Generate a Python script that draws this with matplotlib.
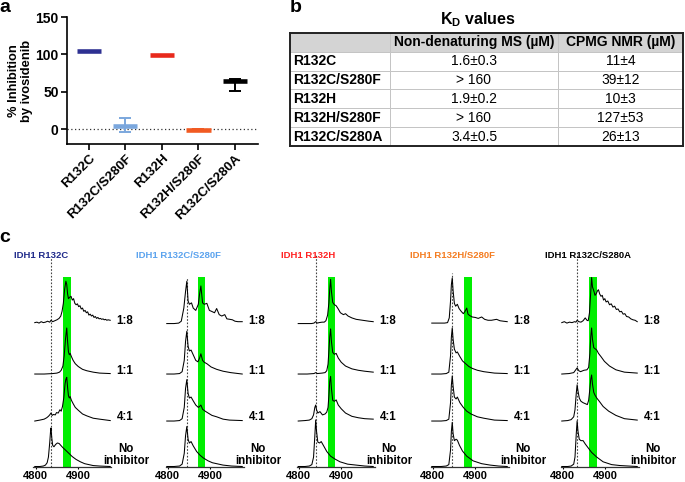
import matplotlib
matplotlib.use('Agg')
import matplotlib.pyplot as plt
import numpy as np

plt.rcParams['font.family'] = ['Liberation Sans', 'DejaVu Sans']
plt.rcParams['mathtext.fontset'] = 'custom'
plt.rcParams['mathtext.rm'] = 'Liberation Sans'
plt.rcParams['mathtext.bf'] = 'Liberation Sans:bold'

# ---------------- Panel a data ----------------
a_categories = ['R132C', 'R132C/S280F', 'R132H', 'R132H/S280F', 'R132C/S280A']
a_mean = [104, 4.5, 99, -1, 65]
a_err_low = [104, -4, 99, -2, 51]
a_err_high = [104, 15, 99, 0.5, 67]
a_colors = ['#2e3192', '#7ba7dd', '#e8291c', '#f15a22', '#000000']
a_yticks = [0, 50, 100, 150]

# ---------------- Panel b data ----------------
tbl_header = ['', 'Non-denaturing MS (µM)', 'CPMG NMR (µM)']
tbl_rows = ['R132C', 'R132C/S280F', 'R132H', 'R132H/S280F', 'R132C/S280A']
kd_ms = ['1.6±0.3', '> 160', '1.9±0.2', '> 160', '3.4±0.5']
kd_nmr = ['11±4', '39±12', '10±3', '127±53', '26±13']

# ---------------- Panel c data ----------------
c_titles = ['IDH1 R132C', 'IDH1 R132C/S280F', 'IDH1 R132H', 'IDH1 R132H/S280F', 'IDH1 R132C/S280A']
c_title_colors = ['#1f2a8a', '#5ba3ee', '#ff2020', '#f47c20', '#000000']
c_ratios = ['1:8', '1:1', '4:1', 'No inhibitor']
c_apo_mz = [4836, 4845, 4840, 4846, 4834]          # dotted line (no inhibitor peak)
c_band_lo = [4865, 4871, 4869, 4873, 4863]         # green band (complex)
c_band_hi = [4883, 4888, 4885, 4892, 4880]
c_xticks = [4800, 4900]

# R132C
r132c_18_mz = [4798,4803,4808,4813,4818,4823,4828,4833,4836,4840,4845,4850,4855,4859,4862,4865,4868,4871,4873,4875,4877,4880,4883,4886,4889,4892,4895,4898,4901,4904,4907,4910,4913,4916,4919,4922,4925,4928,4931,4934,4937,4940,4943,4946,4949,4952,4955,4958,4961,4964,4967,4970,4975]
r132c_18_int = [4,5,3,6,4,5,7,5,9,6,8,10,13,18,28,45,75,92,85,65,55,58,60,52,55,45,42,44,38,40,33,35,28,30,25,27,20,22,18,20,15,17,13,15,12,13,11,12,10,11,9,10,9]
r132c_11_mz = [4798,4820,4840,4850,4856,4860,4864,4867,4870,4873,4875,4877,4879,4881,4884,4888,4893,4900,4910,4920,4935,4950,4975]
r132c_11_int = [1,1,2,3,5,9,18,40,75,99,70,48,42,45,38,30,23,17,11,8,5,3,2]
r132c_41_mz = [4798,4810,4820,4826,4830,4833,4836,4839,4842,4846,4849,4853,4857,4860,4863,4866,4869,4871,4873,4875,4877,4879,4881,4884,4888,4893,4900,4910,4920,4935,4950,4975]
r132c_41_int = [1,3,5,8,11,14,18,13,15,14,19,18,25,22,32,50,80,90,94,72,55,50,53,45,38,30,24,16,12,7,5,2]
r132c_no_mz = [4798,4810,4818,4823,4827,4830,4833,4835,4836,4838,4840,4843,4847,4851,4855,4859,4864,4870,4878,4886,4895,4905,4915,4925,4935,4950,4975]
r132c_no_int = [0,0,1,3,8,20,50,75,82,60,45,42,47,50,49,45,40,35,28,21,15,10,6,4,2,1,0]

# R132C/S280F
s280f_18_mz = [4798,4815,4826,4832,4838,4842,4845,4848,4851,4856,4860,4866,4872,4875,4878,4882,4886,4892,4898,4903,4910,4915,4921,4927,4934,4939,4946,4952,4958,4965,4975]
s280f_18_int = [2,2,3,7,35,70,92,50,43,46,35,30,43,65,82,46,43,45,30,28,25,34,21,18,21,12,11,10,7,6,6]
s280f_11_mz = [4798,4815,4828,4834,4839,4842,4845,4848,4851,4855,4860,4866,4871,4875,4878,4882,4886,4892,4902,4915,4930,4948,4975]
s280f_11_int = [1,1,2,6,30,70,92,60,50,52,42,30,27,35,44,30,26,23,16,11,7,4,1]
s280f_41_mz = [4798,4815,4828,4834,4839,4842,4845,4848,4851,4855,4860,4866,4872,4875,4878,4882,4888,4895,4904,4915,4930,4945,4975]
s280f_41_int = [1,1,2,6,30,70,89,60,50,52,44,35,30,32,35,26,22,18,13,10,5,3,2]
s280f_no_mz = [4798,4815,4828,4834,4839,4842,4845,4848,4851,4855,4860,4868,4876,4884,4895,4905,4915,4930,4950,4975]
s280f_no_int = [0,0,1,5,28,65,85,58,50,53,44,32,24,18,12,8,6,3,1,0]

# R132H
r132h_18_mz = [4799,4815,4830,4836,4840,4844,4848,4855,4860,4864,4868,4871,4873,4875,4877,4880,4884,4888,4893,4898,4905,4910,4916,4925,4935,4950,4965,4975]
r132h_18_int = [2,2,2,3,6,3,4,5,5,8,20,46,75,96,70,47,42,40,33,25,21,23,18,14,11,9,7,6]
r132h_11_mz = [4799,4820,4836,4840,4844,4855,4862,4866,4869,4871,4873,4875,4877,4880,4884,4888,4893,4900,4910,4925,4940,4955,4975]
r132h_11_int = [1,1,2,4,2,3,4,8,22,50,80,97,70,47,43,45,35,26,18,12,9,7,5]
r132h_41_mz = [4799,4815,4825,4831,4835,4838,4840,4842,4845,4850,4856,4862,4866,4869,4871,4873,4875,4877,4880,4884,4888,4893,4900,4910,4925,4940,4955,4975]
r132h_41_int = [1,2,3,6,14,30,35,25,18,21,14,16,20,30,55,85,96,70,45,43,46,35,27,18,11,8,6,5]
r132h_no_mz = [4799,4815,4825,4831,4835,4838,4840,4842,4845,4849,4853,4858,4866,4875,4885,4897,4915,4935,4955,4975]
r132h_no_int = [0,0,1,4,20,65,99,75,52,50,53,45,32,22,16,10,5,3,1,0]

# R132H/S280F
hs280f_18_mz = [4798,4815,4828,4835,4839,4842,4844,4846,4848,4851,4854,4858,4862,4867,4872,4876,4880,4883,4887,4893,4900,4907,4915,4922,4930,4938,4944,4950,4958,4966,4975]
hs280f_18_int = [3,3,3,4,14,50,85,99,72,45,39,43,34,28,23,28,35,22,19,16,15,13,16,11,9,9,10,11,8,7,6]
hs280f_11_mz = [4798,4820,4832,4838,4842,4844,4846,4848,4851,4855,4858,4864,4870,4876,4880,4885,4893,4905,4920,4945,4975]
hs280f_11_int = [1,1,2,5,40,80,99,75,54,46,48,38,29,24,21,17,13,9,6,3,2]
hs280f_41_mz = [4798,4820,4832,4838,4842,4844,4846,4848,4851,4855,4858,4864,4872,4880,4890,4905,4920,4945,4975]
hs280f_41_int = [1,1,2,5,40,78,97,75,52,48,52,40,30,22,16,10,7,3,2]
hs280f_no_mz = [4798,4820,4832,4838,4842,4844,4846,4848,4851,4855,4858,4863,4870,4880,4895,4915,4935,4955,4975]
hs280f_no_int = [0,0,1,4,35,75,94,70,55,58,56,45,33,22,12,6,3,1,0]

# R132C/S280A
s280a_18_mz = [4798,4804,4810,4816,4822,4828,4831,4834,4838,4843,4848,4853,4857,4860,4863,4866,4868,4870,4873,4876,4879,4882,4884,4887,4890,4893,4896,4899,4902,4906,4910,4914,4918,4922,4926,4930,4934,4938,4942,4946,4950,4955,4960,4965,4970,4975]
s280a_18_int = [4,6,3,5,4,6,5,9,6,5,8,14,9,8,25,70,100,80,72,62,66,72,74,65,60,62,52,55,48,50,42,44,37,39,32,33,27,28,22,23,17,16,12,10,9,6]
s280a_11_mz = [4798,4815,4826,4830,4834,4838,4842,4850,4857,4861,4864,4866,4868,4870,4873,4876,4880,4884,4890,4898,4910,4925,4945,4975]
s280a_11_int = [1,2,4,9,14,8,6,9,10,15,45,80,99,75,57,55,52,45,38,28,18,10,5,3]
s280a_41_mz = [4798,4812,4820,4826,4829,4832,4834,4836,4839,4843,4848,4853,4858,4861,4864,4866,4868,4870,4873,4876,4880,4886,4895,4908,4925,4945,4975]
s280a_41_int = [1,2,4,10,25,60,78,65,50,43,40,38,36,45,70,90,99,80,62,56,50,43,32,22,13,6,3]
s280a_no_mz = [4798,4812,4820,4826,4829,4832,4834,4836,4839,4843,4848,4853,4858,4868,4880,4895,4915,4935,4955,4975]
s280a_no_int = [0,0,1,5,20,70,97,75,58,55,55,48,42,30,20,10,4,2,1,0]

spectra = [
    [(r132c_18_mz, r132c_18_int), (r132c_11_mz, r132c_11_int), (r132c_41_mz, r132c_41_int), (r132c_no_mz, r132c_no_int)],
    [(s280f_18_mz, s280f_18_int), (s280f_11_mz, s280f_11_int), (s280f_41_mz, s280f_41_int), (s280f_no_mz, s280f_no_int)],
    [(r132h_18_mz, r132h_18_int), (r132h_11_mz, r132h_11_int), (r132h_41_mz, r132h_41_int), (r132h_no_mz, r132h_no_int)],
    [(hs280f_18_mz, hs280f_18_int), (hs280f_11_mz, hs280f_11_int), (hs280f_41_mz, hs280f_41_int), (hs280f_no_mz, hs280f_no_int)],
    [(s280a_18_mz, s280a_18_int), (s280a_11_mz, s280a_11_int), (s280a_41_mz, s280a_41_int), (s280a_no_mz, s280a_no_int)],
]

# ---------------- Layout ----------------
W, H = 685, 482
fig = plt.figure(figsize=(W / 100, H / 100), dpi=100)


def px_axes(l, t, r, b):
    return fig.add_axes([l / W, 1 - b / H, (r - l) / W, (b - t) / H])


def ftext(x, y, s, **kw):
    fig.text(x / W, 1 - y / H, s, **kw)


# ---------------- Panel a ----------------
ax = px_axes(67, 17, 258, 144)
xs = np.arange(len(a_categories))
for i, (m, lo, hi, c) in enumerate(zip(a_mean, a_err_low, a_err_high, a_colors)):
    if hi > lo:
        ax.errorbar(i, m, yerr=[[m - lo], [hi - m]], color=c, lw=1.4,
                    capsize=4.5, capthick=1.4, fmt='none', zorder=3)
    ax.plot([i - 0.33, i + 0.33], [m, m], color=c, lw=3.3,
            solid_capstyle='butt', zorder=4)
ax.axhline(0, color='#333333', ls=(0, (1, 2)), lw=0.9, zorder=1)
ax.set_xlim(-0.6, 4.63)
ax.set_ylim(-20, 150)
ax.set_yticks(a_yticks)
ax.set_xticks(xs)
ax.set_xticklabels(a_categories, rotation=45, ha='right', rotation_mode='anchor',
                   fontsize=9.6, fontweight='bold')
for lab in ax.get_yticklabels():
    lab.set_fontweight('bold')
    lab.set_fontsize(10)
ax.spines['top'].set_visible(False)
ax.spines['right'].set_visible(False)
for s in ['left', 'bottom']:
    ax.spines[s].set_linewidth(1.2)
ax.tick_params(axis='both', width=1.2, length=4, pad=2)
ax.set_ylabel('% Inhibition\nby ivosidenib', fontsize=9.3, fontweight='bold', labelpad=2,
              linespacing=1.1)

# ---------------- Panel b ----------------
ftext(478, 20, r'$\mathbf{K_D}$ values', fontsize=11.5, fontweight='bold', ha='center', va='center')
tax = px_axes(290, 33, 683, 146)
cell_text = [tbl_header] + [[r, m, n] for r, m, n in zip(tbl_rows, kd_ms, kd_nmr)]
tbl = tax.table(cellText=cell_text, colWidths=[100 / 393, 168 / 393, 125 / 393],
                bbox=[0, 0, 1, 1], cellLoc='center')
tbl.auto_set_font_size(False)
tbl.set_fontsize(10)
for (r, c), cell in tbl.get_celld().items():
    cell.set_edgecolor('#c4c4c4')
    cell.set_linewidth(0.7)
    if r == 0:
        cell.set_facecolor('#d4d4d4')
        cell.get_text().set_fontweight('bold')
    if c == 0:
        cell._loc = 'left'
        cell.PAD = 0.03
        cell.get_text().set_fontweight('bold')
        cell.get_text().set_ha('left')
tax.set_xticks([])
tax.set_yticks([])
tax.patch.set_visible(False)
for s in tax.spines.values():
    s.set_linewidth(1.4)
    s.set_color('#222222')

# ---------------- Panel c ----------------
c_left = [33.5, 165.5, 296.5, 430.5, 560.5]
c_title_x = [41, 178, 308, 452, 588]
c_offsets = [142, 92, 45, 0]
c_label_y = [146, 96, 49]
c_dotted_top = [210, 189, 212, 194, 214]
int_scale = 0.47
for p in range(5):
    axc = px_axes(c_left[p], 252, c_left[p] + 78, 467)
    axc.fill_between([c_band_lo[p], c_band_hi[p]], 0, 190, color='#00ee00', lw=0, zorder=1)
    axc.plot([c_apo_mz[p], c_apo_mz[p]], [0, c_dotted_top[p]], color='#444444',
             ls=(0, (1.5, 1.5)), lw=0.8, zorder=2)
    for k, (mz, inten) in enumerate(spectra[p]):
        y = c_offsets[k] + np.array(inten) * int_scale
        axc.plot(mz, y, color='black', lw=0.75, zorder=3)
    axc.set_xlim(4795, 4978)
    axc.set_ylim(-0.5, 214.5)
    for s in ['top', 'right', 'left']:
        axc.spines[s].set_visible(False)
    axc.spines['bottom'].set_linewidth(0.9)
    axc.spines['bottom'].set_color('#333333')
    axc.set_yticks([])
    axc.set_xticks(c_xticks)
    axc.tick_params(axis='x', length=1.5, width=0.8, pad=1.2, labelsize=8)
    for lab in axc.get_xticklabels():
        lab.set_fontweight('bold')
    for k in range(3):
        axc.text(1 + 5 / 78, c_label_y[k], c_ratios[k], transform=axc.get_yaxis_transform(),
                 fontsize=8.3, fontweight='bold', ha='left', va='center')
    axc.text(1 + 14.5 / 78, 18, 'No', transform=axc.get_yaxis_transform(),
             fontsize=8.3, fontweight='bold', ha='center', va='center')
    axc.text(1 + 14.5 / 78, 5, 'inhibitor', transform=axc.get_yaxis_transform(),
             fontsize=8.3, fontweight='bold', ha='center', va='center')
    ftext(c_title_x[p], 255, c_titles[p], fontsize=6.8, fontweight='bold',
          color=c_title_colors[p], ha='center', va='center')

# panel letters
ftext(5, 8, 'a', fontsize=14, fontweight='bold', ha='center', va='center')
ftext(296, 8, 'b', fontsize=14, fontweight='bold', ha='center', va='center')
ftext(5, 237, 'c', fontsize=14, fontweight='bold', ha='center', va='center')

fig.savefig('out.png', dpi=100)
